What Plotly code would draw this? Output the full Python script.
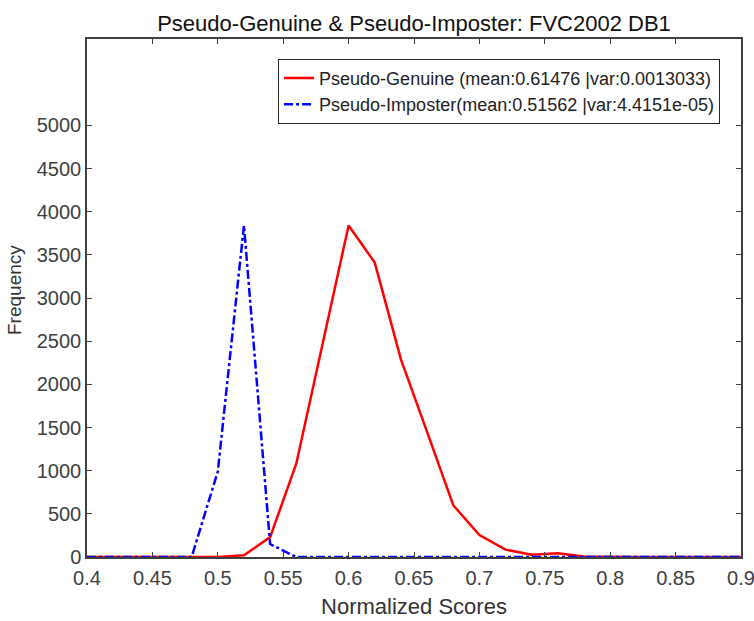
import plotly.graph_objects as go

scores = [0.40, 0.42, 0.44, 0.46, 0.48, 0.50, 0.52, 0.54, 0.56, 0.58, 0.60, 0.62, 0.64,
          0.66, 0.68, 0.70, 0.72, 0.74, 0.76, 0.78, 0.80, 0.82, 0.84, 0.86, 0.88, 0.90]
genuine = [0, 0, 0, 0, 0, 0, 20, 230, 1080, 2450, 3840, 3410, 2290,
           1450, 600, 255, 85, 25, 42, 5, 0, 0, 0, 0, 0, 0]
imposter = [0, 0, 0, 0, 0, 990, 3840, 150, 0, 0, 0, 0, 0,
            0, 0, 0, 0, 0, 0, 0, 0, 0, 0, 0, 0, 0]

genuine_name = "Pseudo-Genuine (mean:0.61476 |var:0.0013033)"
imposter_name = "Pseudo-Imposter(mean:0.51562 |var:4.4151e-05)"

x_ticks = [0.4, 0.45, 0.5, 0.55, 0.6, 0.65, 0.7, 0.75, 0.8, 0.85, 0.9]
x_tick_text = ["0.4", "0.45", "0.5", "0.55", "0.6", "0.65", "0.7", "0.75", "0.8", "0.85", "0.9"]
y_ticks = [0, 500, 1000, 1500, 2000, 2500, 3000, 3500, 4000, 4500, 5000]

FONT = "Liberation Sans, Arial, sans-serif"
GREY = "#404040"

fig = go.Figure()
fig.add_trace(go.Scatter(x=scores, y=genuine, mode="lines", name=genuine_name,
                         line=dict(color="#ff0000", width=2.5)))
fig.add_trace(go.Scatter(x=scores, y=imposter, mode="lines", name=imposter_name,
                         line=dict(color="#0000ff", width=2.5, dash="dashdot")))

fig.update_layout(
    width=754, height=621,
    margin=dict(l=87, r=13, t=39, b=64),
    paper_bgcolor="white", plot_bgcolor="white",
    font=dict(family=FONT, color=GREY),
    title=dict(text="Pseudo-Genuine & Pseudo-Imposter: FVC2002 DB1",
               xref="paper", x=0.5, xanchor="center", y=0.963, yanchor="middle",
               font=dict(size=22, color="#111111", family=FONT)),
    legend=dict(x=0.968, xanchor="right", y=0.962, yanchor="top",
                bordercolor="#262626", borderwidth=1, bgcolor="white",
                font=dict(size=18, color="#222222", family=FONT),
                tracegroupgap=0),
    showlegend=True,
    annotations=[dict(text="Frequency", textangle=-90, xref="paper", yref="paper",
                      x=-0.112, y=0.515, xanchor="center", yanchor="middle",
                      showarrow=False, font=dict(size=19, color="#333333", family=FONT))],
)
fig.update_xaxes(range=[0.4, 0.9], tickvals=x_ticks, ticktext=x_tick_text,
                 ticks="inside", ticklen=5, tickcolor=GREY, showline=True,
                 linecolor=GREY, linewidth=1.5, mirror="ticks", showgrid=False,
                 zeroline=False, automargin=False, ticklabelstandoff=2,
                 ticklabeloverflow="allow",
                 tickfont=dict(size=20, color=GREY),
                 title=dict(text="Normalized Scores", font=dict(size=22, color="#333333"),
                            standoff=11))
fig.update_yaxes(range=[0, 6000], tickvals=y_ticks,
                 ticks="inside", ticklen=5, tickcolor=GREY, showline=True,
                 linecolor=GREY, linewidth=1.5, mirror="ticks", showgrid=False,
                 zeroline=False, automargin=False, ticklabeloverflow="allow",
                 tickfont=dict(size=20, color=GREY))

fig.write_html("out.html")
